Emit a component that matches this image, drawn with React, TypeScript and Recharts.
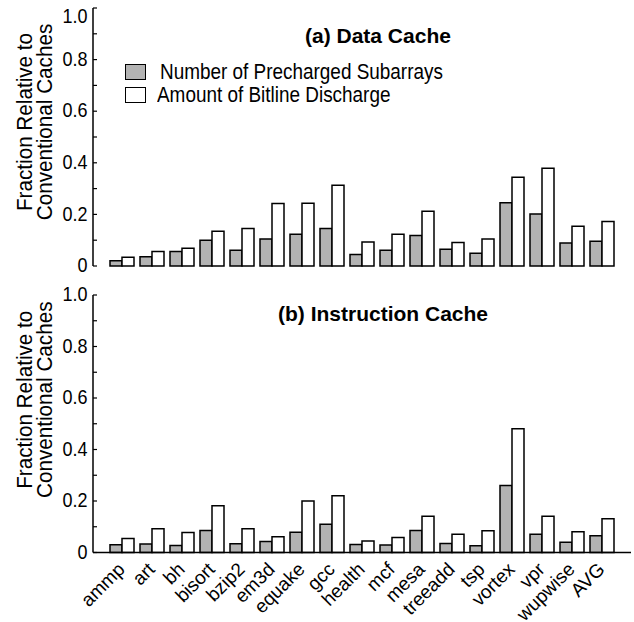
import { BarChart, Bar, XAxis, YAxis, Legend } from 'recharts'

const benchmarks = [
  'ammp', 'art', 'bh', 'bisort', 'bzip2', 'em3d', 'equake', 'gcc', 'health',
  'mcf', 'mesa', 'treeadd', 'tsp', 'vortex', 'vpr', 'wupwise', 'AVG',
]

// (a) data cache
const dataPrecharged = [0.02, 0.036, 0.056, 0.1, 0.061, 0.105, 0.123, 0.145, 0.045, 0.061, 0.118, 0.065, 0.049, 0.245, 0.202, 0.089, 0.096]
const dataDischarge = [0.034, 0.056, 0.069, 0.135, 0.145, 0.242, 0.243, 0.313, 0.093, 0.123, 0.212, 0.091, 0.105, 0.344, 0.379, 0.154, 0.172]

// (b) instruction cache
const instPrecharged = [0.03, 0.033, 0.027, 0.085, 0.034, 0.043, 0.079, 0.11, 0.031, 0.029, 0.085, 0.035, 0.026, 0.26, 0.071, 0.04, 0.065]
const instDischarge = [0.054, 0.092, 0.078, 0.182, 0.092, 0.061, 0.2, 0.22, 0.045, 0.058, 0.141, 0.071, 0.084, 0.481, 0.141, 0.081, 0.131]

const yTicks = [0, 0.1, 0.2, 0.3, 0.4, 0.5, 0.6, 0.7, 0.8, 0.9, 1.0]

const SERIES_A = 'Number of Precharged Subarrays'
const SERIES_B = 'Amount of Bitline Discharge'

const GRAY = '#b3b3b3'
const FONT = '"Liberation Sans", Arial, Helvetica, sans-serif'

// the original uses a slightly condensed face, so text is squeezed a bit horizontally
function YTick({ x, y, payload, topDrop = 0 }: any) {
  const v = payload.value as number
  const major = Math.round(v * 10) % 2 === 0
  const base = y + 6.2 + (v === 1 ? topDrop : 0)
  return (
    <g>
      <line x1={x} x2={x + 4} y1={y} y2={y} stroke="#000" strokeWidth={1.2} />
      {major && (
        <g transform={`translate(${x - 5.5}, ${base}) scale(0.9, 1)`}>
          <text x={0} y={0} textAnchor="end" fontSize={20} fill="#000" fontFamily={FONT}>
            {v === 0 ? '0' : v.toFixed(1)}
          </text>
        </g>
      )}
    </g>
  )
}

function XTick({ x, y, payload }: any) {
  const ax = x + 4
  const ay = y + 18
  return (
    <text x={ax} y={ay} transform={`rotate(-45, ${ax}, ${ay})`} textAnchor="end" fontSize={19} fill="#000" fontFamily={FONT}>
      {payload.value}
    </text>
  )
}

function AxisTitle({ viewBox, shift }: any) {
  const cy = viewBox.y + viewBox.height / 2 + shift
  return (
    <g fontFamily={FONT} fontSize={22} fill="#000">
      <g transform={`translate(31.5, ${cy}) rotate(-90) scale(0.94, 1)`}>
        <text x={0} y={0} textAnchor="middle">Fraction Relative to</text>
      </g>
      <g transform={`translate(52, ${cy}) rotate(-90) scale(0.94, 1)`}>
        <text x={0} y={0} textAnchor="middle">Conventional Caches</text>
      </g>
    </g>
  )
}

function LegendBox() {
  const box = (fill: string) => ({
    width: 21, height: 16, boxSizing: 'border-box' as const,
    border: '1.5px solid #000', background: fill, flex: 'none',
  })
  const label = (gap: number) => ({
    marginLeft: gap, lineHeight: '16px', display: 'inline-block', whiteSpace: 'nowrap' as const,
    transform: 'scaleX(0.86)', transformOrigin: 'left center',
  })
  return (
    <div style={{ fontFamily: FONT, fontSize: 22, color: '#000' }}>
      <div style={{ display: 'flex', alignItems: 'center', height: 16 }}>
        <div style={box(GRAY)} />
        <span style={label(14)}>{SERIES_A}</span>
      </div>
      <div style={{ display: 'flex', alignItems: 'center', height: 16, marginTop: 6.5 }}>
        <div style={box('#fff')} />
        <span style={label(11)}>{SERIES_B}</span>
      </div>
    </div>
  )
}

type ChartProps = {
  precharged: number[]
  discharge: number[]
  height: number
  margin: { top: number; right: number; bottom: number; left: number }
  xHeight: number
  showLabels: boolean
  showLegend: boolean
  titleShift: number
  topDrop: number
}

function CacheChart({ precharged, discharge, height, margin, xHeight, showLabels, showLegend, titleShift, topDrop }: ChartProps) {
  const rows = benchmarks.map((name, i) => ({
    name,
    [SERIES_A]: precharged[i],
    [SERIES_B]: discharge[i],
  }))
  const axisLine = { stroke: '#000', strokeWidth: 1.5 }
  return (
    <BarChart width={634} height={height} data={rows} margin={margin} barSize={12} barGap={0}>
      <XAxis
        dataKey="name"
        height={xHeight}
        padding={{ left: 14, right: 14 }}
        axisLine={axisLine}
        tickLine={false}
        tickSize={0}
        tickMargin={0}
        interval={0}
        tick={showLabels ? <XTick /> : false}
      />
      <XAxis xAxisId="top" orientation="top" dataKey="name" height={0} axisLine={axisLine} tick={false} tickLine={false} />
      <YAxis
        domain={[0, 1]}
        ticks={yTicks}
        width={93}
        axisLine={axisLine}
        tickLine={false}
        tickSize={0}
        tickMargin={0}
        interval={0}
        tick={<YTick topDrop={topDrop} />}
        label={(props: any) => <AxisTitle {...props} shift={titleShift} />}
      />
      <YAxis yAxisId="right" orientation="right" domain={[0, 1]} width={0} axisLine={axisLine} tick={false} tickLine={false} />
      {showLegend && (
        <Legend
          layout="vertical"
          align="center"
          verticalAlign="middle"
          content={<LegendBox />}
          wrapperStyle={{ left: 125, top: 64, width: 'auto' }}
        />
      )}
      <Bar dataKey={SERIES_A} fill={GRAY} stroke="#000" strokeWidth={1.5} isAnimationActive={false} />
      <Bar dataKey={SERIES_B} fill="#fff" stroke="#000" strokeWidth={1.5} isAnimationActive={false} />
    </BarChart>
  )
}

export default function App() {
  const titleStyle = {
    position: 'absolute' as const, fontFamily: FONT, fontWeight: 700,
    fontSize: 21, lineHeight: '21px', color: '#000', whiteSpace: 'nowrap' as const,
  }
  return (
    <div style={{ position: 'absolute', left: 0, top: 0, width: 634, height: 622, background: '#fff', fontFamily: FONT }}>
      <div style={{ position: 'absolute', left: 0, top: 0 }}>
        <CacheChart
          precharged={dataPrecharged}
          discharge={dataDischarge}
          height={280}
          margin={{ top: 8, right: 3, bottom: 14, left: 0 }}
          xHeight={0}
          showLabels={false}
          showLegend={true}
          titleShift={-15}
          topDrop={8.5}
        />
      </div>
      <div style={{ position: 'absolute', left: 0, top: 280 }}>
        <CacheChart
          precharged={instPrecharged}
          discharge={instDischarge}
          height={342}
          margin={{ top: 15, right: 3, bottom: 0, left: 0 }}
          xHeight={69.5}
          showLabels={true}
          showLegend={false}
          titleShift={-24}
          topDrop={0}
        />
      </div>
      <div style={{ ...titleStyle, left: 305, top: 25 }}>(a) Data Cache</div>
      <div style={{ ...titleStyle, left: 278, top: 303 }}>(b) Instruction Cache</div>
    </div>
  )
}
